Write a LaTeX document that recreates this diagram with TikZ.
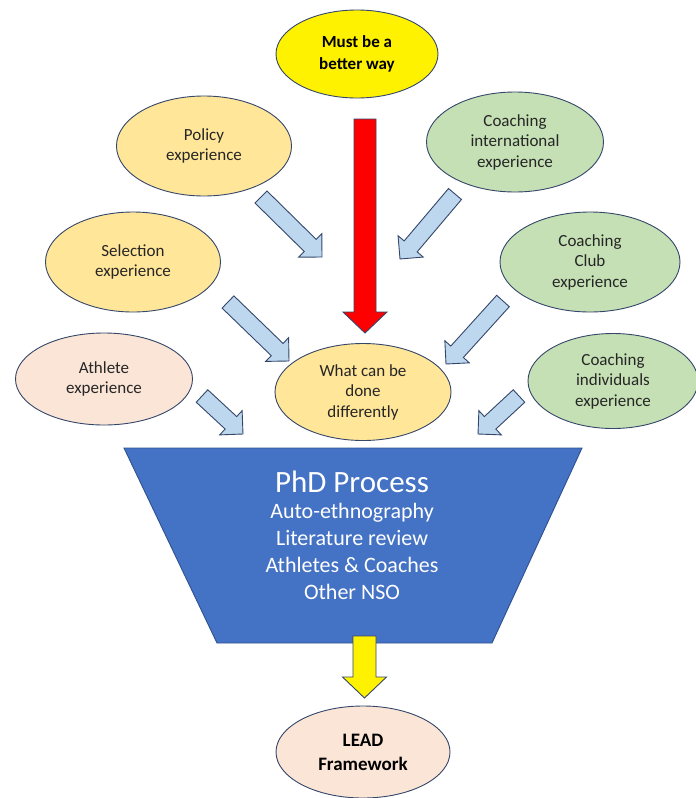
\documentclass[tikz,border=0pt]{standalone}
\usepackage{fontspec}
\setmainfont{Carlito}
\usetikzlibrary{shapes.geometric,calc}

\definecolor{outline}{HTML}{34466A}
\definecolor{gold}{HTML}{FFE699}
\definecolor{sage}{HTML}{C5E0B4}
\definecolor{peach}{HTML}{FBE5D6}
\definecolor{sky}{HTML}{BDD7EE}
\definecolor{funnel}{HTML}{4472C4}
\definecolor{funneledge}{HTML}{2F528F}
\definecolor{ink}{HTML}{262626}

% block arrow: style, tail, tip, shaft half width, head half width, head length
\newcommand\blockarrow[6]{%
  \path (#2) coordinate (ba-t) (#3) coordinate (ba-h);
  \path ($(ba-h)!#6!(ba-t)$) coordinate (ba-b);
  \draw[#1] ($(ba-t)!#4!90:(ba-h)$) -- ($(ba-b)!#4!-90:(ba-t)$)
    -- ($(ba-b)!#5!-90:(ba-t)$) -- (ba-h) -- ($(ba-b)!#5!90:(ba-t)$)
    -- ($(ba-b)!#4!90:(ba-t)$) -- ($(ba-t)!#4!-90:(ba-h)$) -- cycle;
}

\tikzset{
  bubble/.style={ellipse, draw=outline, line width=0.9pt, inner sep=0pt,
    align=center, text=ink, font=\fontsize{17}{20.5}\selectfont},
  feeder/.style={fill=sky, draw=outline, line width=0.9pt, line join=miter},
  mainarrow/.style={draw=outline, line width=0.9pt, line join=miter},
}

\begin{document}
\begin{tikzpicture}[x=1pt, y=-1pt]
\useasboundingbox (0,0) rectangle (696,798);

% experience bubbles
\node[bubble, fill=yellow, minimum width=162, minimum height=88, text=black,
  font=\fontsize{17}{21.5}\selectfont\bfseries] (better) at (357,54) {Must be a\\better way};
\node[bubble, fill=gold, minimum width=175, minimum height=100] (policy) at (204,146) {Policy\\experience};
\node[bubble, fill=sage, minimum width=177, minimum height=100] (intl) at (515,142) {Coaching\\international\\experience};
\node[bubble, fill=gold, minimum width=175, minimum height=100] (select) at (133,262) {Selection\\experience};
\node[bubble, fill=sage, minimum width=180, minimum height=100] (club) at (590,262) {Coaching\\Club\\experience};
\node[bubble, fill=peach, minimum width=177, minimum height=92] (athlete) at (104,379) {Athlete\\experience};
\node[bubble, fill=gold, minimum width=176, minimum height=97] (diff) at (363,392) {What can be\\done\\differently};
\node[bubble, fill=sage, minimum width=170, minimum height=95] (indiv) at (613,381) {Coaching\\individuals\\experience};

% funnel
\coordinate (f-tl) at (124,448);
\coordinate (f-tr) at (582,448);
\coordinate (f-br) at (492,643);
\coordinate (f-bl) at (217,643);
\draw[fill=funnel, draw=funneledge, line width=0.9pt, line join=miter]
  (f-tl) -- (f-tr) -- (f-br) -- (f-bl) -- cycle;
\node[text=white, align=center, inner sep=0pt,
  font=\fontsize{22}{26.8}\selectfont] (phd) at (352,535)
  {{\fontsize{31}{34}\selectfont PhD Process}\\[0pt]Auto-ethnography\\Literature review\\Athletes \& Coaches\\Other NSO};

% outcome
\node[bubble, fill=peach, minimum width=174, minimum height=92, text=black,
  font=\fontsize{19}{24}\selectfont\bfseries] (lead) at (363,752) {LEAD\\Framework};

% arrow end points
\coordinate (red-t) at (365,119);
\coordinate (red-h) at (365,333);
\coordinate (yel-t) at (364.5,636);
\coordinate (yel-h) at (364.5,698);
\coordinate (pol-t) at (261,197);
\coordinate (pol-h) at (322,257);
\coordinate (int-t) at (455,194);
\coordinate (int-h) at (400,259);
\coordinate (sel-t) at (228,302);
\coordinate (sel-h) at (289,361);
\coordinate (clb-t) at (503,301);
\coordinate (clb-h) at (446,364);
\coordinate (ath-t) at (202,396);
\coordinate (ath-h) at (243,434);
\coordinate (ind-t) at (519,396);
\coordinate (ind-h) at (478,434);

% main arrows
\blockarrow{mainarrow, fill=red}{red-t}{red-h}{11pt}{22pt}{21pt}
\blockarrow{mainarrow, fill=yellow}{yel-t}{yel-h}{11.5pt}{22pt}{21pt}

% feeder arrows
\blockarrow{feeder}{pol-t}{pol-h}{8.5pt}{16.5pt}{16.5pt}
\blockarrow{feeder}{int-t}{int-h}{8.5pt}{16.5pt}{16.5pt}
\blockarrow{feeder}{sel-t}{sel-h}{8.5pt}{16.5pt}{16.5pt}
\blockarrow{feeder}{clb-t}{clb-h}{8.5pt}{16.5pt}{16.5pt}
\blockarrow{feeder}{ath-t}{ath-h}{8.5pt}{16.5pt}{16.5pt}
\blockarrow{feeder}{ind-t}{ind-h}{8.5pt}{16.5pt}{16.5pt}
\end{tikzpicture}
\end{document}
